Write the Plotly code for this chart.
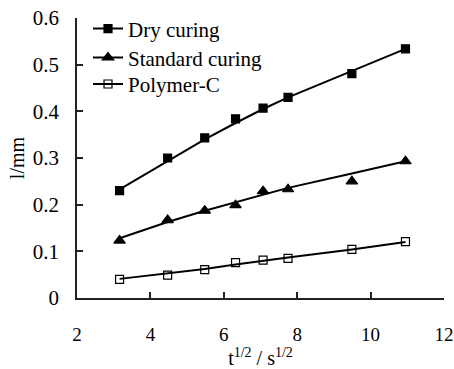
import plotly.graph_objects as go

t_sqrt = [3.16, 4.47, 5.48, 6.32, 7.07, 7.75, 9.49, 10.95]

dry = [0.230, 0.300, 0.343, 0.384, 0.407, 0.430, 0.481, 0.534]
standard = [0.123, 0.167, 0.187, 0.199, 0.229, 0.233, 0.250, 0.293]
polymer = [0.040, 0.049, 0.061, 0.076, 0.081, 0.085, 0.104, 0.121]

dry_fit = [0.233, 0.293, 0.340, 0.375, 0.405, 0.430, 0.487, 0.534]
standard_fit = [0.128, 0.163, 0.187, 0.205, 0.222, 0.236, 0.267, 0.293]
polymer_fit = [0.041, 0.052, 0.062, 0.072, 0.080, 0.087, 0.104, 0.120]

names = ["Dry curing", "Standard curing", "Polymer-C"]
symbols = ["square", "triangle-up", "square-open"]
msizes = [8, 10, 8]
legend_ids = ["legend", "legend2", "legend3"]
legend_y = [0.961, 0.858, 0.763]

FONT = "Liberation Serif, Times New Roman, serif"
fig = go.Figure()

for vals, fit, name, sym, ms, lid in zip([dry, standard, polymer],
                                         [dry_fit, standard_fit, polymer_fit],
                                         names, symbols, msizes, legend_ids):
    fig.add_trace(go.Scatter(x=t_sqrt, y=fit, mode="lines",
                             line=dict(color="black", width=2),
                             showlegend=False, hoverinfo="skip"))
    fig.add_trace(go.Scatter(x=t_sqrt, y=vals, mode="markers",
                             marker=dict(symbol=sym, size=ms, color="black",
                                         line=dict(color="black", width=1.2)),
                             showlegend=False))
    fig.add_trace(go.Scatter(x=[None], y=[None], mode="lines+markers", name=name,
                             legend=lid,
                             line=dict(color="black", width=2),
                             marker=dict(symbol=sym, size=ms, color="black",
                                         line=dict(color="black", width=1.2))))

legend_common = dict(x=0.03, xanchor="left", yanchor="middle",
                     bgcolor="rgba(0,0,0,0)", font=dict(family=FONT, size=21),
                     itemwidth=30)

fig.update_layout(
    width=454, height=369,
    margin=dict(l=77, r=10, t=8.5, b=71),
    paper_bgcolor="white", plot_bgcolor="white",
    font=dict(family=FONT, size=20, color="black"),
    showlegend=True,
    legend=dict(y=legend_y[0], **legend_common),
    legend2=dict(y=legend_y[1], **legend_common),
    legend3=dict(y=legend_y[2], **legend_common),
    xaxis=dict(range=[2, 12], dtick=2, tick0=2, showgrid=False, zeroline=False,
               showline=True, linecolor="#222", linewidth=1.5,
               ticks="inside", ticklen=6, tickcolor="#222", tickwidth=1.5,
               ticklabelstandoff=18, automargin=False, ticklabeloverflow="allow",
               tickfont=dict(family=FONT, size=19),
               title=dict(text="t<sup>1/2</sup> / s<sup>1/2</sup>", standoff=0,
                          font=dict(family=FONT, size=20))),
    yaxis=dict(range=[0, 0.6], dtick=0.1, showgrid=False, zeroline=False,
               showline=True, linecolor="#222", linewidth=1.5,
               ticks="inside", ticklen=6, tickcolor="#222", tickwidth=1.5,
               ticklabelstandoff=12, automargin=False, ticklabeloverflow="allow",
               tickfont=dict(family=FONT, size=21),
               title=dict(text="l/mm", standoff=3,
                          font=dict(family=FONT, size=20))),
)

fig.write_html(
    "out.html",
    config={"displayModeBar": False},
    post_script="document.body.style.margin='0';"
                "document.documentElement.style.overflow='hidden';",
)
